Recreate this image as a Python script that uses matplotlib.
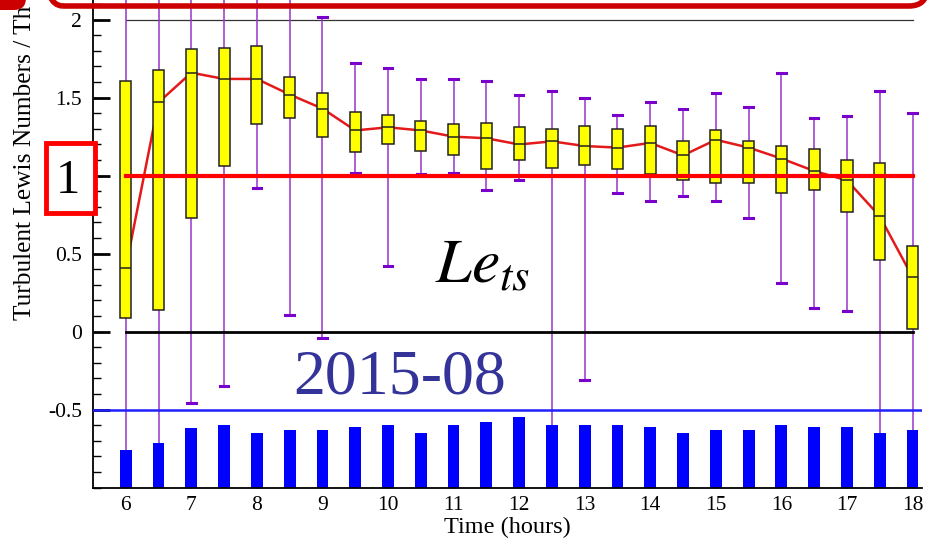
import matplotlib
matplotlib.use("Agg")
import matplotlib.pyplot as plt
from matplotlib.patches import Rectangle, FancyBboxPatch
from matplotlib.transforms import IdentityTransform
from matplotlib.ticker import MultipleLocator
import numpy as np

plt.rcParams['font.family'] = ['Liberation Serif', 'DejaVu Serif']
plt.rcParams['mathtext.fontset'] = 'stix'

# half-hourly Le_ts distributions, August 2015
times = [6, 6.5, 7, 7.5, 8, 8.5, 9, 9.5, 10, 10.5, 11, 11.5, 12,
         12.5, 13, 13.5, 14, 14.5, 15, 15.5, 16, 16.5, 17, 17.5, 18]
whisker_low = [-1.05, -1.05, -0.46, -0.35, 0.92, 0.11, -0.04, 1.02, 0.42, 1.01, 1.02, 0.91, 0.97,
               -1.05, -0.31, 0.89, 0.84, 0.87, 0.84, 0.73, 0.31, 0.15, 0.13, -1.05, -1.05]
q1 = [0.09, 0.14, 0.73, 1.06, 1.33, 1.37, 1.25, 1.15, 1.20, 1.16, 1.13, 1.04, 1.10,
      1.05, 1.07, 1.04, 1.01, 0.97, 0.95, 0.95, 0.89, 0.91, 0.77, 0.46, 0.02]
medians = [0.41, 1.47, 1.66, 1.62, 1.62, 1.52, 1.43, 1.29, 1.31, 1.29, 1.25, 1.24, 1.20,
           1.22, 1.19, 1.18, 1.21, 1.13, 1.23, 1.18, 1.11, 1.03, 0.97, 0.74, 0.35]
q3 = [1.61, 1.68, 1.81, 1.82, 1.83, 1.63, 1.53, 1.41, 1.39, 1.35, 1.33, 1.34, 1.31,
      1.30, 1.32, 1.30, 1.32, 1.22, 1.29, 1.22, 1.19, 1.17, 1.10, 1.08, 0.55]
whisker_high = [2.3, 2.3, 2.3, 2.3, 2.3, 2.3, 2.02, 1.72, 1.69, 1.62, 1.62, 1.61, 1.52,
                1.54, 1.50, 1.39, 1.47, 1.43, 1.53, 1.44, 1.66, 1.37, 1.38, 1.54, 1.40]
# blue bars at the bottom (top of each bar, baseline -1)
bar_tops = [-0.758, -0.712, -0.615, -0.598, -0.647, -0.63, -0.63, -0.613, -0.598, -0.647, -0.598,
            -0.581, -0.549, -0.598, -0.598, -0.598, -0.613, -0.647, -0.63, -0.63, -0.598, -0.613,
            -0.613, -0.647, -0.63]
bar_base = -1.0
xticks = [6, 7, 8, 9, 10, 11, 12, 13, 14, 15, 16, 17, 18]
yticks = [-0.5, 0, 0.5, 1, 1.5, 2]
# the "1" label is drawn big in its own red frame below
ytick_labels = ['-0.5', '0', '0.5', '', '1.5', '2']

W, H = 930, 545
fig = plt.figure(figsize=(W / 100, H / 100), dpi=100)
ax = fig.add_axes([93 / W, 1 - 487.7 / H, (921.7 - 93) / W, 487.7 / H])

stats = []
for i in range(len(times)):
    stats.append(dict(whislo=whisker_low[i], q1=q1[i], med=medians[i], q3=q3[i],
                      whishi=whisker_high[i], fliers=[]))
bp = ax.bxp(stats, positions=times, widths=0.17, capwidths=0.13, patch_artist=True,
            manage_ticks=False, showfliers=False,
            boxprops=dict(facecolor='#FFFF00', edgecolor='#222222', linewidth=1.1),
            medianprops=dict(color='#222222', linewidth=1.1),
            whiskerprops=dict(color='#9933CC', linewidth=1.1),
            capprops=dict(color='#7A00CC', linewidth=2.2))
for w in bp['whiskers'] + bp['caps']:
    w.set_zorder(1.2)
for b in bp['boxes'] + bp['medians']:
    b.set_zorder(2.0)

# median connecting line, behind the boxes
ax.plot(times, medians, color='#E41A1A', lw=1.8, zorder=1.6)

ax.bar(times, np.array(bar_tops) - bar_base, bottom=bar_base, width=0.18,
       color='#0000FF', zorder=2.2)

ax.plot([6, 18], [2, 2], color='#333333', lw=0.9, zorder=1.1)
ax.plot([6, 18], [0, 0], color='black', lw=2.0, zorder=3)
ax.plot([6, 18], [1, 1], color='#FF0000', lw=3.0, zorder=3)
ax.axhline(-0.5, color='#2020FF', lw=1.8, zorder=3)

ax.set_xlim(5.5, 18.14)
ax.set_ylim(-1, 2.126)
ax.spines['top'].set_visible(False)
ax.spines['right'].set_visible(False)
ax.spines['left'].set_linewidth(1.3)
ax.spines['bottom'].set_linewidth(1.3)
ax.set_xticks(xticks)
ax.set_yticks(yticks)
ax.set_yticklabels(ytick_labels)
ax.yaxis.set_minor_locator(MultipleLocator(0.1))
ax.tick_params(axis='y', which='major', direction='in', length=12, width=2.0,
               labelsize=15.5, pad=8)
ax.tick_params(axis='y', which='minor', direction='in', length=6, width=1.0)
ax.tick_params(axis='x', which='major', direction='in', length=12, width=1.0,
               labelsize=15.5, pad=6, top=False)
ax.set_xlabel('Time (hours)', fontsize=17.5, labelpad=1)

fig.text(25 / W, 1 - 320 / H, 'Turbulent Lewis Numbers / Th', rotation=90,
         rotation_mode='anchor', ha='left', va='center', fontsize=18.3)

ax.text(435, 263, r'$Le_{ts}$', transform=IdentityTransform(), fontsize=46,
        ha='left', va='baseline')
ax.text(293, H - 393, '2015-08', transform=IdentityTransform(), fontsize=46,
        color='#333399', ha='left', va='baseline')

# red frame around the "1" tick
fig.add_artist(Rectangle((46, H - 213), 49, 70, transform=IdentityTransform(),
                         facecolor='white', edgecolor='#FF0000', lw=3.5, zorder=5))
fig.text(68 / W, 1 - 181 / H, '1', fontsize=35, ha='center', va='center', zorder=6)

# red frame edges from the slide
fig.add_artist(FancyBboxPatch((45, H - 6), 882, 60, boxstyle='round,pad=0,rounding_size=18',
                              transform=IdentityTransform(), facecolor='none',
                              edgecolor='#CC0000', lw=4, zorder=5))
fig.add_artist(FancyBboxPatch((-40, H - 10), 66, 40, boxstyle='round,pad=0,rounding_size=12',
                              transform=IdentityTransform(), facecolor='#CC0000',
                              edgecolor='none', zorder=5))

fig.savefig('out.png', dpi=100)
